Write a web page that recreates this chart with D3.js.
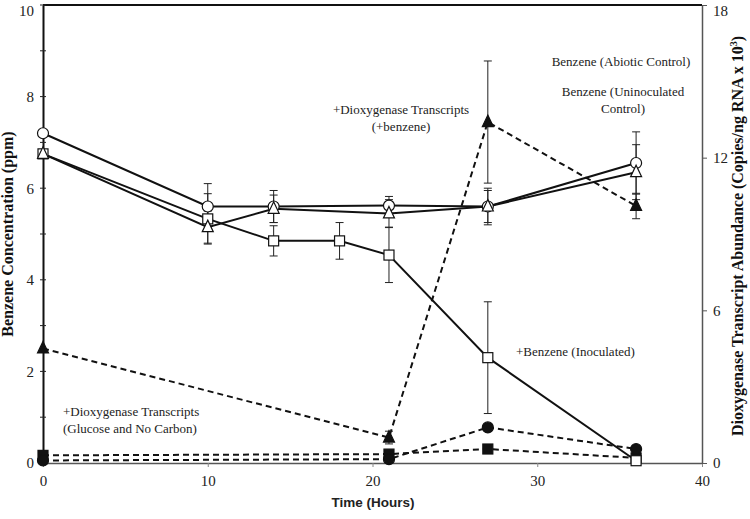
<!DOCTYPE html>
<html>
<head>
<meta charset="utf-8">
<script src="https://cdn.jsdelivr.net/npm/d3@7"></script>
<style>
  html, body { margin: 0; padding: 0; background: #fff; }
  svg { display: block; }
</style>
</head>
<body>
<svg id="chart" width="750" height="519"></svg>
<script>
// ---- Data ----
const xTicks = [0, 10, 20, 30, 40];
const yLeftTicks = [0, 2, 4, 6, 8, 10];
const yLeftMinor = [1, 3, 5, 7, 9];
const yRightTicks = [0, 6, 12, 18];

// Benzene concentration (left axis, ppm) – solid lines
const abioticTime = [0, 10, 14, 21, 27, 36];
const abioticVal  = [7.2, 5.6, 5.6, 5.62, 5.6, 6.55];
const abioticErr  = [0, 0.5, 0.35, 0.2, 0.4, 0.68];

const uninocTime = [0, 10, 14, 21, 27, 36];
const uninocVal  = [6.75, 5.15, 5.55, 5.45, 5.6, 6.35];
const uninocErr  = [0, 0.35, 0.3, 0.3, 0.35, 0.6];

const inocTime = [0, 10, 14, 18, 21, 27, 36];
const inocVal  = [6.75, 5.33, 4.85, 4.85, 4.54, 2.3, 0.05];
const inocErr  = [0, 0.55, 0.33, 0.4, 0.6, 1.22, 0];

// Dioxygenase transcripts (right axis, copies/ng RNA x 10^3) – dashed lines
const benzTrTime = [0, 21, 27, 36];
const benzTrVal  = [4.5, 1.0, 13.4, 10.1];
const benzTrErr  = [0, 0.25, 2.4, 0.5];

const glucTrTime = [0, 21, 27, 36];
const glucTrVal  = [0.1, 0.15, 1.4, 0.55];

const noCTrTime = [0, 21, 27, 36];
const noCTrVal  = [0.3, 0.35, 0.55, 0.2];

// ---- Layout ----
const svg = d3.select("#chart");
const L = 43, R = 702, T = 5, B = 463;
const x = d3.scaleLinear().domain([0, 40]).range([L, R]);
const yL = d3.scaleLinear().domain([0, 10]).range([B, T]);
const yR = d3.scaleLinear().domain([0, 18]).range([B, T]);

const serif = "'Liberation Serif','Times New Roman',serif";

// Frame: top line
svg.append("line").attr("x1", L).attr("x2", R).attr("y1", T).attr("y2", T)
  .attr("stroke", "#111").attr("stroke-width", 2);

// Bottom axis
const gx = svg.append("g").attr("transform", `translate(0,${B})`)
  .call(d3.axisBottom(x).tickValues(xTicks).tickSize(4).tickSizeOuter(0).tickPadding(8));
gx.select(".domain").attr("stroke", "#555").attr("stroke-width", 1.5);
gx.selectAll(".tick line").attr("stroke", "#888");
gx.selectAll("text").attr("font-family", serif).attr("font-size", 15).attr("fill", "#222");

// Left axis
const gyl = svg.append("g").attr("transform", `translate(${L},0)`)
  .call(d3.axisLeft(yL).tickValues(yLeftTicks).tickSize(0).tickPadding(9).tickSizeOuter(0));
gyl.select(".domain").attr("stroke", "#111").attr("stroke-width", 2);
gyl.selectAll("text").attr("font-family", serif).attr("font-size", 15).attr("fill", "#222")
  .attr("dy", d => d === 10 ? "0.7em" : "0.32em");
svg.append("g").selectAll("line").data(yLeftTicks.concat(yLeftMinor)).join("line")
  .attr("x1", L - 3).attr("x2", L + 3)
  .attr("y1", d => yL(d)).attr("y2", d => yL(d))
  .attr("stroke", "#222").attr("stroke-width", 1);

// Right axis
const gyr = svg.append("g").attr("transform", `translate(${R},0)`)
  .call(d3.axisRight(yR).tickValues(yRightTicks).tickSize(5).tickPadding(6).tickSizeOuter(0));
gyr.select(".domain").attr("stroke", "#555").attr("stroke-width", 1.5);
gyr.selectAll(".tick line").attr("stroke", "#555");
gyr.selectAll("text").attr("font-family", serif).attr("font-size", 15).attr("fill", "#222")
  .attr("dy", d => d === 18 ? "0.7em" : "0.32em");

// Axis titles
svg.append("text")
  .attr("transform", `translate(13,${(T + B) / 2}) rotate(-90)`)
  .attr("text-anchor", "middle")
  .attr("font-family", serif).attr("font-weight", "bold").attr("font-size", 16)
  .attr("fill", "#111")
  .text("Benzene Concentration (ppm)");

const rt = svg.append("text")
  .attr("transform", `translate(743,${(T + B) / 2 + 2}) rotate(-90)`)
  .attr("text-anchor", "middle")
  .attr("font-family", serif).attr("font-weight", "bold").attr("font-size", 16)
  .attr("fill", "#111");
rt.append("tspan").text("Dioxygenase Transcript Abundance (Copies/ng RNA x 10");
rt.append("tspan").attr("font-size", 10).attr("dy", -6).text("3");
rt.append("tspan").attr("dy", 6).text(")");

svg.append("text")
  .attr("x", 373).attr("y", 507)
  .attr("text-anchor", "middle")
  .attr("font-family", "'Liberation Sans','Open Sans',sans-serif").attr("font-weight", "bold").attr("font-size", 13.5)
  .attr("fill", "#222")
  .text("Time (Hours)");

// ---- Series helpers ----
function pts(times, vals, errs) {
  return times.map((t, i) => ({ t, v: vals[i], e: errs ? errs[i] : 0 }));
}
const solidSeries = [
  { name: "abiotic", data: pts(abioticTime, abioticVal, abioticErr), marker: "circle" },
  { name: "uninoc",  data: pts(uninocTime, uninocVal, uninocErr), marker: "triangle" },
  { name: "inoc",    data: pts(inocTime, inocVal, inocErr), marker: "square" }
];
const dashedSeries = [
  { name: "benzTr", data: pts(benzTrTime, benzTrVal, benzTrErr), marker: "triangle" },
  { name: "glucTr", data: pts(glucTrTime, glucTrVal), marker: "circle" },
  { name: "noCTr",  data: pts(noCTrTime, noCTrVal), marker: "square" }
];

const lineL = d3.line().x(d => x(d.t)).y(d => yL(d.v));
const lineR = d3.line().x(d => x(d.t)).y(d => yR(d.v));

// Lines
dashedSeries.forEach(s => {
  svg.append("path").datum(s.data).attr("d", lineR)
    .attr("fill", "none").attr("stroke", "#111").attr("stroke-width", 2)
    .attr("stroke-dasharray", "6,4");
});
solidSeries.forEach(s => {
  svg.append("path").datum(s.data).attr("d", lineL)
    .attr("fill", "none").attr("stroke", "#111").attr("stroke-width", 2);
});

// Error bars
function errorBars(s, y) {
  const g = svg.append("g").attr("stroke", "#222").attr("stroke-width", 1);
  s.data.filter(d => d.e > 0).forEach(d => {
    const cx = x(d.t), y1 = y(d.v + d.e), y2 = y(d.v - d.e);
    g.append("line").attr("x1", cx).attr("x2", cx).attr("y1", y1).attr("y2", y2);
    g.append("line").attr("x1", cx - 4).attr("x2", cx + 4).attr("y1", y1).attr("y2", y1);
    g.append("line").attr("x1", cx - 4).attr("x2", cx + 4).attr("y1", y2).attr("y2", y2);
  });
}
solidSeries.forEach(s => errorBars(s, yL));
dashedSeries.forEach(s => errorBars(s, yR));

// Markers
function markers(s, y, filled) {
  const fill = filled ? "#111" : "#fff";
  const g = svg.append("g").attr("fill", fill).attr("stroke", "#111").attr("stroke-width", 1.2);
  s.data.forEach(d => {
    const cx = x(d.t), cy = y(d.v);
    if (s.marker === "circle") {
      g.append("circle").attr("cx", cx).attr("cy", cy).attr("r", 5.5);
    } else if (s.marker === "square") {
      g.append("rect").attr("x", cx - 5).attr("y", cy - 5).attr("width", 10).attr("height", 10);
    } else {
      g.append("path").attr("d", `M${cx},${cy - 7}L${cx + 5.5},${cy + 4.5}L${cx - 5.5},${cy + 4.5}Z`);
    }
  });
}
markers(dashedSeries[2], yR, true);
markers(dashedSeries[1], yR, true);
markers(dashedSeries[0], yR, true);
markers(solidSeries[2], yL, false);
markers(solidSeries[0], yL, false);
markers(solidSeries[1], yL, false);

// ---- Annotations ----
function note(lines, xPos, yPos, anchor) {
  const t = svg.append("text").attr("font-family", serif).attr("font-size", 13)
    .attr("fill", "#222").attr("text-anchor", anchor || "middle");
  lines.forEach((ln, i) => {
    t.append("tspan").attr("x", xPos).attr("y", yPos + i * 17).text(ln);
  });
}
note(["Benzene (Abiotic Control)"], 621, 66);
note(["Benzene (Uninoculated", "Control)"], 623, 96);
note(["+Dioxygenase Transcripts", "(+benzene)"], 401, 114);
note(["+Benzene (Inoculated)"], 516, 356, "start");
note(["+Dioxygenase Transcripts", "(Glucose and No Carbon)"], 63, 416, "start");
</script>
</body>
</html>
